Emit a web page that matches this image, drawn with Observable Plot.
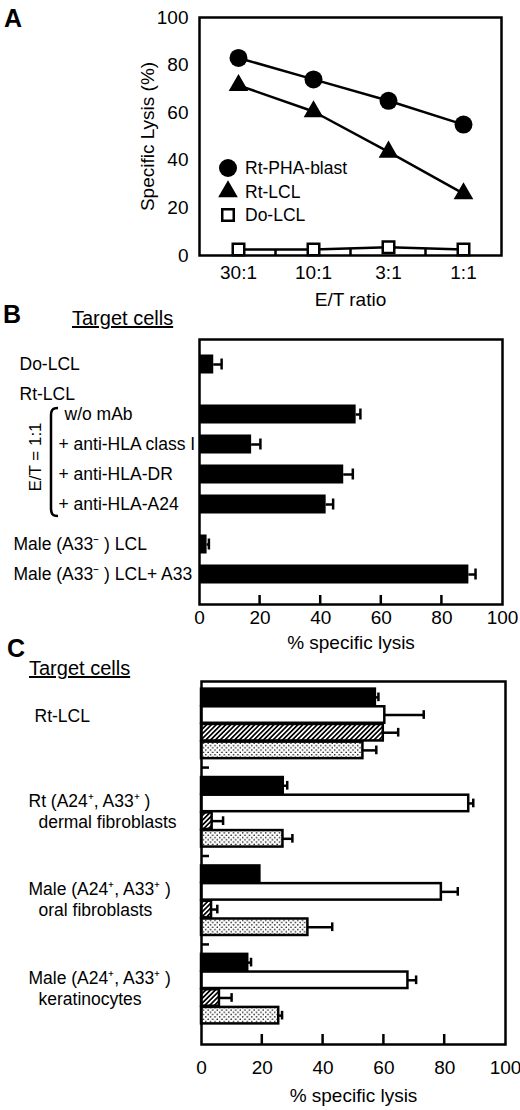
<!DOCTYPE html>
<html><head><meta charset="utf-8">
<script src="https://cdn.jsdelivr.net/npm/d3@7"></script>
<script src="https://cdn.jsdelivr.net/npm/@observablehq/plot@0.6"></script>
<style>
body{margin:0;background:#fff;}
#wrap{position:relative;width:520px;height:1110px;font-family:'Liberation Sans',Arial,Helvetica,sans-serif;color:#000;overflow:hidden;}
.panel{position:absolute;left:0;}
.letter{position:absolute;font-weight:bold;font-size:25px;line-height:1;}
.head{position:absolute;font-size:20px;text-decoration:underline;line-height:1;white-space:nowrap;}
</style></head>
<body>
<div id="wrap">
  <div class="panel" id="pA" style="top:0"></div>
  <div class="panel" id="pB" style="top:300px"></div>
  <div class="panel" id="pC" style="top:650px"></div>
  <div class="letter" style="left:4px;top:6px">A</div>
  <div class="letter" style="left:3px;top:302px">B</div>
  <div class="head" style="left:72px;top:308px">Target cells</div>
  <div class="letter" style="left:7px;top:636px">C</div>
  <div class="head" style="left:29px;top:658px">Target cells</div>
</div>
<script>
// ---------- Panel A data ----------
const ratios = ["30:1", "10:1", "3:1", "1:1"];
const seriesA = ["Rt-PHA-blast", "Rt-LCL", "Do-LCL"];
const lysisPHA = [83, 74, 65, 55];
const lysisRtLCL = [71.5, 60.5, 43.5, 26];
const lysisDoLCL = [2.5, 2.5, 3.5, 2.5];
const yTicksA = [0, 20, 40, 60, 80, 100];

// ---------- Panel B data ----------
const targetsB = ["Do-LCL", "w/o mAb", "+ anti-HLA class I", "+ anti-HLA-DR", "+ anti-HLA-A24", "Male (A33\u207B ) LCL", "Male (A33\u207B ) LCL+ A33"];
const lysisB = [4.7, 51.7, 17.2, 47.6, 41.8, 2.5, 88.9];
const errB = [2.6, 1.4, 2.9, 3.0, 2.3, 0.6, 2.2];
const headerB = "Rt-LCL";

// ---------- Panel C data ----------
const groupsC1 = ["Rt-LCL", "Rt (A24\u207A, A33\u207A )", "Male (A24\u207A, A33\u207A )", "Male (A24\u207A, A33\u207A )"];
const groupsC2 = ["", "dermal fibroblasts", "oral fibroblasts", "keratinocytes"];
const seriesC = ["solid", "open", "hatched", "dotted"];
const lysisCsolid = [57.2, 26.9, 19.2, 15.2];
const lysisCopen = [60.3, 87.9, 78.9, 67.9];
const lysisChatched = [59.8, 3.5, 3.3, 5.9];
const lysisCdotted = [53.1, 26.8, 35.0, 25.4];
const errCsolid = [1.0, 1.3, 0, 1.1];
const errCopen = [12.8, 1.5, 5.4, 2.7];
const errChatched = [4.9, 3.6, 1.9, 4.0];
const errCdotted = [4.4, 3.1, 8.0, 1.1];
const xTicks = [0, 20, 40, 60, 80, 100];
const innerXTicks = [20, 40, 60, 80];

const FONT = "'Liberation Sans', Arial, Helvetica, sans-serif";
const baseStyle = {fontFamily: FONT, fontSize: "19px", color: "black", background: "none", overflow: "visible"};
const TICK_FS = 19;
const bw = s => (s && typeof s.bandwidth === "function") ? s.bandwidth() : 0;

function insideTicks({xs = [], ys = [], xLen = 9, yLen = 8}) {
  return (index, scales, values, dims) => {
    const g = d3.create("svg:g").attr("stroke", "black").attr("stroke-width", 2.5);
    const bottom = dims.height - dims.marginBottom, left = dims.marginLeft;
    for (const v of xs) {
      const px = scales.x(v) + bw(scales.x) / 2;
      g.append("line").attr("x1", px).attr("x2", px).attr("y1", bottom).attr("y2", bottom - xLen);
    }
    for (const v of ys) {
      const py = scales.y(v) + bw(scales.y) / 2;
      g.append("line").attr("x1", left).attr("x2", left + yLen).attr("y1", py).attr("y2", py);
    }
    return g.node();
  };
}

// ================= Panel A =================
const rowsA = [];
[lysisPHA, lysisRtLCL, lysisDoLCL].forEach((vals, s) =>
  vals.forEach((v, i) => rowsA.push({series: seriesA[s], ratio: ratios[i], value: v})));

const midTicksA = (index, scales, values, dims) => {
  const g = d3.create("svg:g").attr("stroke", "black").attr("stroke-width", 2.5);
  const bottom = dims.height - dims.marginBottom;
  for (let i = 0; i < ratios.length - 1; i++) {
    const px = (scales.x(ratios[i]) + scales.x(ratios[i + 1])) / 2;
    g.append("line").attr("x1", px).attr("x2", px).attr("y1", bottom).attr("y2", bottom - 6);
  }
  return g.node();
};

const legendA = (index, scales, values, dims) => {
  const g = d3.create("svg:g");
  const x0 = dims.marginLeft + 29, y0 = dims.marginTop + 151, step = 23.5;
  const syms = [
    [d3.symbolCircle, 9, "black", "none"],
    [d3.symbolTriangle, 7.3, "black", "none"],
    [d3.symbolSquare, 6.5, "white", "black"]
  ];
  seriesA.forEach((name, i) => {
    const [type, r, fill, stroke] = syms[i];
    g.append("path")
      .attr("transform", `translate(${x0},${y0 + i * step})`)
      .attr("d", d3.symbol(type, Math.PI * r * r)())
      .attr("fill", fill).attr("stroke", stroke).attr("stroke-width", 2.5);
    g.append("text").attr("x", x0 + 17).attr("y", y0 + i * step).attr("dy", "0.35em")
      .attr("text-anchor", "start").attr("font-size", 17.5).attr("fill", "black").text(name);
  });
  return g.node();
};

const plotA = Plot.plot({
  width: 520, height: 300,
  marginLeft: 199, marginRight: 19, marginTop: 17, marginBottom: 45,
  style: baseStyle,
  x: {type: "point", domain: ratios, padding: 0.5},
  y: {domain: [0, 100]},
  marks: [
    Plot.axisY({ticks: yTicksA, tickSize: 0, tickPadding: 11, label: null, fontSize: TICK_FS}),
    Plot.axisX({tickSize: 0, tickPadding: 10, label: null, fontSize: TICK_FS}),
    Plot.text(["Specific Lysis (%)"], {frameAnchor: "left", dx: -52, rotate: -90, text: d => d,
      textAnchor: "middle", lineAnchor: "middle", fontSize: 19}),
    Plot.text(["E/T ratio"], {frameAnchor: "bottom", dy: 44, text: d => d, lineAnchor: "middle", fontSize: 19}),
    Plot.line(rowsA, {x: "ratio", y: "value", z: "series", stroke: "black", strokeWidth: 2.5}),
    Plot.dot(rowsA.filter(d => d.series === seriesA[0]), {x: "ratio", y: "value", symbol: "circle", r: 9, fill: "black"}),
    Plot.dot(rowsA.filter(d => d.series === seriesA[1]), {x: "ratio", y: "value", symbol: "triangle", r: 7.3, fill: "black"}),
    Plot.dot(rowsA.filter(d => d.series === seriesA[2]), {x: "ratio", y: "value", symbol: "square", r: 6.5, fill: "white", stroke: "black", strokeWidth: 2.5}),
    legendA,
    midTicksA,
    Plot.frame({stroke: "black", strokeWidth: 2.5})
  ]
});
document.getElementById("pA").append(plotA);

// ================= Panel B =================
const dataB = targetsB.map((t, i) => ({target: t, value: lysisB[i], err: errB[i]}));
// row layout (band slots; "_n" are empty spacer rows)
const slotB = ["Do-LCL", "_1", "_2", headerB, "_4", "w/o mAb", "_6", "_7", "+ anti-HLA class I", "_9", "_10",
  "+ anti-HLA-DR", "_12", "_13", "+ anti-HLA-A24", "_15", "_16", "_17", "Male (A33\u207B ) LCL", "_19", "_20", "Male (A33\u207B ) LCL+ A33"];

const bracketB = (index, scales, values, dims) => {
  const y = scales.y, half = bw(y) / 2;
  const top = y("w/o mAb") + half - 6, bot = y("+ anti-HLA-A24") + half + 12;
  const xl = 51, xr = 58;
  const g = d3.create("svg:g");
  g.append("path")
    .attr("d", `M${xr},${top} C${xl + 1.5},${top} ${xl},${top + 2} ${xl},${top + 8} L${xl},${bot - 8} C${xl},${bot - 2} ${xl + 1.5},${bot} ${xr},${bot}`)
    .attr("fill", "none").attr("stroke", "black").attr("stroke-width", 2.5);
  g.append("text").attr("transform", `translate(35,${(top + bot) / 2 - 5}) rotate(-90)`)
    .attr("text-anchor", "middle").attr("dy", "0.35em").attr("font-size", 17).attr("fill", "black").text("E/T = 1:1");
  return g.node();
};

const plotB = Plot.plot({
  width: 520, height: 350,
  marginLeft: 199, marginRight: 18, marginTop: 39, marginBottom: 46,
  style: baseStyle,
  x: {domain: [0, 100]},
  y: {type: "band", domain: slotB, range: [59, 279], padding: 0, round: false, axis: null},
  marks: [
    Plot.barX(dataB, {x: "value", y: "target", fill: "black", insetTop: -4.5, insetBottom: -4.5}),
    Plot.ruleY(dataB, {y: "target", x1: "value", x2: d => d.value + d.err, stroke: "black", strokeWidth: 2.5}),
    Plot.tickX(dataB, {x: d => d.value + d.err, y: "target", stroke: "black", strokeWidth: 2.5, insetTop: -0.5, insetBottom: -0.5}),
    Plot.text([targetsB[0], headerB], {y: d => d, text: d => d, frameAnchor: "left", textAnchor: "start", dx: -180, fontSize: 17.5}),
    Plot.text([targetsB[1]], {y: d => d, text: d => d, frameAnchor: "left", textAnchor: "start", dx: -135, fontSize: 17.5}),
    Plot.text(targetsB.slice(2, 5), {y: d => d, text: d => d, frameAnchor: "left", textAnchor: "start", dx: -141, fontSize: 17.5}),
    Plot.text(targetsB.slice(5), {y: d => d, text: d => d, frameAnchor: "left", textAnchor: "start", dx: -186, fontSize: 17.5}),
    bracketB,
    Plot.axisX({ticks: xTicks, tickSize: 0, tickPadding: 6, label: null, fontSize: TICK_FS}),
    insideTicks({xs: innerXTicks, xLen: 9}),
    Plot.text(["% specific lysis"], {frameAnchor: "bottom", dy: 38, text: d => d, lineAnchor: "middle", fontSize: 19}),
    Plot.frame({stroke: "black", strokeWidth: 2.5})
  ]
});
document.getElementById("pB").append(plotB);

// ================= Panel C =================
const keyC = (g, c) => `g${g}c${c}`;
const slotC = [];
groupsC1.forEach((_, g) => {
  seriesC.forEach((_, c) => slotC.push(keyC(g, c)));
  if (g < groupsC1.length - 1) slotC.push(`sp${g}`);
});
const spacersC = slotC.filter(k => k.startsWith("sp"));
const valsC = [lysisCsolid, lysisCopen, lysisChatched, lysisCdotted];
const errsC = [errCsolid, errCopen, errChatched, errCdotted];
const dataC = [];
seriesC.forEach((s, c) => groupsC1.forEach((_, g) =>
  dataC.push({series: s, key: keyC(g, c), value: valsC[c][g], err: errsC[c][g]})));
const fillsC = {solid: "black", open: "white", hatched: "url(#hatchC)", dotted: "url(#dotsC)"};

const defsC = () => {
  const defs = d3.create("svg:defs");
  const h = defs.append("pattern").attr("id", "hatchC").attr("patternUnits", "userSpaceOnUse")
    .attr("width", 3.4).attr("height", 3.4).attr("patternTransform", "rotate(45)");
  h.append("rect").attr("width", 3.4).attr("height", 3.4).attr("fill", "white");
  h.append("line").attr("x1", 1.7).attr("x2", 1.7).attr("y1", -1).attr("y2", 4.4).attr("stroke", "black").attr("stroke-width", 1.7);
  const p = defs.append("pattern").attr("id", "dotsC").attr("patternUnits", "userSpaceOnUse")
    .attr("width", 4.6).attr("height", 4.6);
  p.append("rect").attr("width", 4.6).attr("height", 4.6).attr("fill", "white");
  p.append("circle").attr("cx", 1.15).attr("cy", 1.15).attr("r", 0.8).attr("fill", "black");
  p.append("circle").attr("cx", 3.45).attr("cy", 3.45).attr("r", 0.8).attr("fill", "black");
  return defs.node();
};

const groupIdx = groupsC1.map((_, g) => g);
const plotC = Plot.plot({
  width: 520, height: 460,
  marginLeft: 201, marginRight: 15, marginTop: 31, marginBottom: 66,
  style: baseStyle,
  x: {domain: [0, 100]},
  y: {type: "band", domain: slotC, range: [38, 374], padding: 0, round: false, axis: null},
  marks: [
    defsC,
    ...seriesC.map(s => Plot.barX(dataC.filter(d => d.series === s), {
      x: "value", y: "key", fill: fillsC[s], stroke: "black", strokeWidth: 2.5, insetTop: 0.6, insetBottom: 0.6
    })),
    Plot.ruleY(dataC.filter(d => d.err > 0), {y: "key", x1: "value", x2: d => d.value + d.err, stroke: "black", strokeWidth: 2.5}),
    Plot.tickX(dataC.filter(d => d.err > 0), {x: d => d.value + d.err, y: "key", stroke: "black", strokeWidth: 2.5, insetTop: 4.5, insetBottom: 4.5}),
    Plot.text([0], {y: g => keyC(g, 1), text: g => groupsC1[g], frameAnchor: "left", textAnchor: "start", dx: -167, dy: 1.4, fontSize: 17.5}),
    Plot.text(groupIdx.slice(1), {y: g => keyC(g, 1), text: g => groupsC1[g], frameAnchor: "left", textAnchor: "start", dx: -173, dy: -2.2, fontSize: 17.5}),
    Plot.text(groupIdx.slice(1), {y: g => keyC(g, 1), text: g => groupsC2[g], frameAnchor: "left", textAnchor: "start", dx: -163, dy: 18.8, fontSize: 17.5}),
    Plot.axisX({ticks: xTicks, tickSize: 0, tickPadding: 16, label: null, fontSize: TICK_FS}),
    insideTicks({xs: innerXTicks, ys: spacersC, xLen: 10, yLen: 8}),
    Plot.text(["% specific lysis"], {frameAnchor: "bottom", dy: 51, text: d => d, lineAnchor: "middle", fontSize: 19}),
    Plot.frame({stroke: "black", strokeWidth: 2.5})
  ]
});
document.getElementById("pC").append(plotC);
</script>
</body></html>
